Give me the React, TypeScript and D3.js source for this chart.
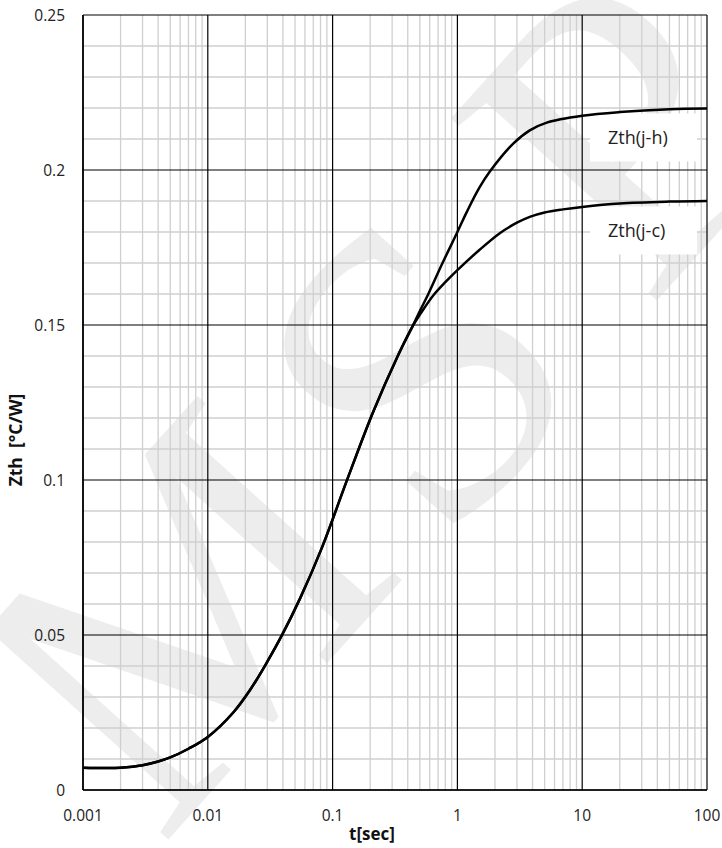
import * as d3 from 'd3';

const W = 722;
const H = 848;
const margin = { top: 15, right: 15, bottom: 58, left: 83 };

const xTicks = [0.001, 0.01, 0.1, 1, 10, 100];
const xTickLabels = ['0.001', '0.01', '0.1', '1', '10', '100'];
const yTicks = [0, 0.05, 0.1, 0.15, 0.2, 0.25];
const yTickLabels = ['0', '0.05', '0.1', '0.15', '0.2', '0.25'];

// both curves coincide up to ~0.44 s
const tCommon = [0.001, 0.0015, 0.002, 0.003, 0.004, 0.005, 0.007, 0.01, 0.016, 0.022, 0.029, 0.039, 0.055, 0.082, 0.13, 0.21, 0.33, 0.44];
const zCommon = [0.0072, 0.0071, 0.0072, 0.008, 0.0092, 0.0105, 0.0133, 0.0171, 0.025, 0.0325, 0.0404, 0.0497, 0.0619, 0.0781, 0.0998, 0.1217, 0.1397, 0.1498];

const tJH = [0.5, 0.585, 0.75, 1, 1.19, 1.5, 1.82, 2.8, 3.8, 5.2, 10, 20, 50, 100];
const zJH = [0.1545, 0.16, 0.1695, 0.18, 0.1865, 0.1943, 0.1995, 0.2085, 0.2128, 0.2153, 0.2175, 0.2187, 0.2196, 0.2198];

const tJC = [0.5, 0.64, 0.8, 1, 1.5, 2.2, 3, 3.8, 5, 7, 10, 20, 50, 100];
const zJC = [0.1533, 0.1595, 0.1638, 0.1677, 0.1742, 0.1797, 0.183, 0.1849, 0.1863, 0.1873, 0.1881, 0.1892, 0.1898, 0.19];

const seriesNames = ['Zth(j-h)', 'Zth(j-c)'];

const font = "'Open Sans', 'DejaVu Sans', sans-serif";

type Pt = { t: number; z: number };
const toPts = (ts: number[], zs: number[]): Pt[] => ts.map((t, i) => ({ t, z: zs[i] }));

// watermark letters, placed one by one along the diagonal
const wmLetters = [
  { ch: 'M', cx: 180, cy: 615 },
  { ch: 'S', cx: 415, cy: 370 },
  { ch: 'P', cx: 620, cy: 130 },
];

export default function App() {
  const x = d3.scaleLog().domain([0.001, 100]).range([margin.left, W - margin.right]);
  const y = d3.scaleLinear().domain([0, 0.25]).range([H - margin.bottom, margin.top]);

  const line = d3
    .line<Pt>()
    .x((d) => x(d.t))
    .y((d) => y(d.z))
    .curve(d3.curveCatmullRom.alpha(0.5));

  const jh = toPts(tCommon.concat(tJH), zCommon.concat(zJH));
  const jc = toPts(tCommon.concat(tJC), zCommon.concat(zJC));

  const minorX = x.ticks().filter((v) => !xTicks.some((m) => Math.abs(m - v) / m < 1e-6));
  const minorY = y.ticks(25).filter((v) => !yTicks.some((m) => Math.abs(m - v) < 1e-9));

  const x0 = margin.left;
  const x1 = W - margin.right;
  const y0 = H - margin.bottom;
  const y1 = margin.top;

  const labels = [
    { name: seriesNames[0], z: 0.2105 },
    { name: seriesNames[1], z: 0.1805 },
  ];

  return (
    <svg width={W} height={H} style={{ position: 'absolute', left: 0, top: 0, background: '#fff' }}>
      <g fontFamily="'Liberation Serif', serif" fontSize={420} fill="#ededed">
        {wmLetters.map((l) => (
          <text
            key={l.ch}
            transform={`translate(${l.cx},${l.cy}) rotate(-48)`}
            textAnchor="middle"
            dominantBaseline="central"
          >
            {l.ch}
          </text>
        ))}
      </g>

      <g stroke="#cfcfcf" strokeWidth={1.3}>
        {minorX.map((v) => (
          <line key={'mx' + v} x1={x(v)} x2={x(v)} y1={y1} y2={y0} />
        ))}
        {minorY.map((v) => (
          <line key={'my' + v} x1={x0} x2={x1} y1={y(v)} y2={y(v)} />
        ))}
      </g>

      {labels.map((l) => (
        <rect key={'bg' + l.name} x={590} y={y(l.z) - 24} width={107} height={48} fill="#fff" />
      ))}

      <g stroke="#000" strokeWidth={1.2}>
        {xTicks.map((v) => (
          <line key={'Mx' + v} x1={x(v)} x2={x(v)} y1={y1} y2={y0} />
        ))}
        {yTicks.map((v) => (
          <line key={'My' + v} x1={x0} x2={x1} y1={y(v)} y2={y(v)} />
        ))}
      </g>
      <line x1={x0} x2={x0} y1={y1} y2={y0} stroke="#000" strokeWidth={1.6} />
      <line x1={x0} x2={x1} y1={y0} y2={y0} stroke="#000" strokeWidth={1.6} />

      <path d={line(jh) || ''} fill="none" stroke="#000" strokeWidth={2.5} />
      <path d={line(jc) || ''} fill="none" stroke="#000" strokeWidth={2.5} />

      {labels.map((l) => (
        <text
          key={'lb' + l.name}
          x={608}
          y={y(l.z)}
          dominantBaseline="central"
          fontFamily={font}
          fontSize={18}
          fill="#222"
        >
          {l.name}
        </text>
      ))}

      {yTicks.map((v, i) => (
        <text
          key={'yt' + v}
          x={65}
          y={y(v)}
          textAnchor="end"
          dominantBaseline="central"
          fontFamily={font}
          fontSize={15.5}
          fill="#222"
        >
          {yTickLabels[i]}
        </text>
      ))}
      {xTicks.map((v, i) => (
        <text
          key={'xt' + v}
          x={x(v)}
          y={815}
          textAnchor="middle"
          dominantBaseline="central"
          fontFamily={font}
          fontSize={15.5}
          fill="#222"
        >
          {xTickLabels[i]}
        </text>
      ))}

      <text x={372} y={833} textAnchor="middle" dominantBaseline="central" fontFamily={font} fontWeight="bold" fontSize={17} fill="#111">
        t[sec]
      </text>
      <text
        transform="translate(15,440) rotate(-90)"
        textAnchor="middle"
        dominantBaseline="central"
        fontFamily={font}
        fontWeight="bold"
        fontSize={17.5}
        fill="#111"
        style={{ whiteSpace: 'pre' }}
      >
        {'Zth  [°C/W]'}
      </text>
    </svg>
  );
}
